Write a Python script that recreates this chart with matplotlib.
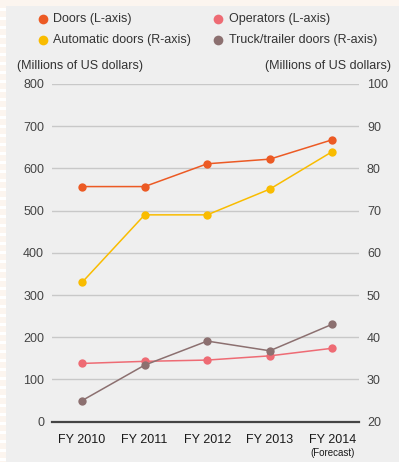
import matplotlib.pyplot as plt
from matplotlib.lines import Line2D
from matplotlib.patches import Rectangle
from matplotlib import transforms

plt.rcParams['font.family'] = ['Liberation Sans', 'DejaVu Sans']

# Data
years = ['FY 2010', 'FY 2011', 'FY 2012', 'FY 2013', 'FY 2014']
doors = [557, 557, 611, 622, 668]              # L-axis
operators = [138, 143, 146, 156, 174]          # L-axis
automatic_doors = [53.0, 69.0, 69.0, 75.1, 84.0]   # R-axis
truck_doors = [25.0, 33.4, 39.1, 36.8, 43.1]       # R-axis

c_doors = '#ec5a24'
c_oper = '#ee6b74'
c_auto = '#f9bc00'
c_truck = '#8c7070'

W, H = 399, 462
fig = plt.figure(figsize=(W / 100, H / 100), dpi=100)
fig.patch.set_facecolor('#fcf5ef')

# grey panel plus striped left edge
fig.add_artist(Rectangle((6 / W, 0), 1, 1 - 6 / H, transform=fig.transFigure,
                         facecolor='#efefef', edgecolor='none', zorder=0))
for yy in range(8, H, 9):
    fig.add_artist(Rectangle((0, 1 - (yy + 3) / H), 6 / W, 3 / H,
                             transform=fig.transFigure,
                             facecolor='white', edgecolor='none', zorder=0))

ax = fig.add_axes([51.7 / W, 1 - 421.7 / H, (359.3 - 51.7) / W, (421.7 - 84) / H])
ax.patch.set_visible(False)
ax2 = ax.twinx()
ax2.patch.set_visible(False)

x = list(range(len(years)))
ax.set_xlim(-0.485, 4.43)
ax.set_ylim(0, 800)
ax2.set_ylim(20, 100)
ax.set_yticks(range(0, 801, 100))
ax2.set_yticks(range(20, 101, 10))

ax.grid(axis='y', color='#c8c8c8', linewidth=1.0)
ax.set_axisbelow(True)

mk = dict(marker='o', markersize=6, linewidth=1.1, markeredgewidth=0)
ax.plot(x, doors, color=c_doors, **mk)
ax.plot(x, operators, color=c_oper, **mk)
ax2.plot(x, automatic_doors, color=c_auto, **mk)
ax2.plot(x, truck_doors, color=c_truck, **mk)

for a in (ax, ax2):
    for s in ('top', 'left', 'right', 'bottom'):
        a.spines[s].set_visible(False)
    a.tick_params(length=0, labelsize=9, labelcolor='#444444')
ax.tick_params(axis='y', pad=5.5)
ax2.tick_params(axis='y', pad=5.5)
ax.axhline(0, color='#444444', linewidth=1.6, zorder=5, clip_on=False)

ax.set_xticks(x)
ax.set_xticklabels(years, fontsize=9, color='#1a1a1a')
ax.tick_params(axis='x', pad=9)
trans = transforms.blended_transform_factory(ax.transData, fig.transFigure)
ax.text(4, 1 - 453 / H, '(Forecast)', transform=trans, ha='center', va='center',
        fontsize=7, color='#1a1a1a')

# axis titles
fig.text(17 / W, 1 - 66 / H, '(Millions of US dollars)', ha='left', va='center',
         fontsize=9, color='#333333')
fig.text(391 / W, 1 - 66 / H, '(Millions of US dollars)', ha='right', va='center',
         fontsize=9, color='#333333')

# legend
legend_items = [
    (42.7, 19, c_doors, 'Doors (L-axis)'),
    (218, 19, c_oper, 'Operators (L-axis)'),
    (42.7, 40, c_auto, 'Automatic doors (R-axis)'),
    (218, 40, c_truck, 'Truck/trailer doors (R-axis)'),
]
for lx, ly, col, lab in legend_items:
    fig.add_artist(Line2D([lx / W], [1 - ly / H], marker='o', markersize=7,
                          markeredgewidth=0, color=col, transform=fig.transFigure))
    fig.text((lx + 10.5) / W, 1 - ly / H, lab, ha='left', va='center',
             fontsize=9, color='#333333')

fig.savefig('out.png', dpi=100, facecolor=fig.get_facecolor())
